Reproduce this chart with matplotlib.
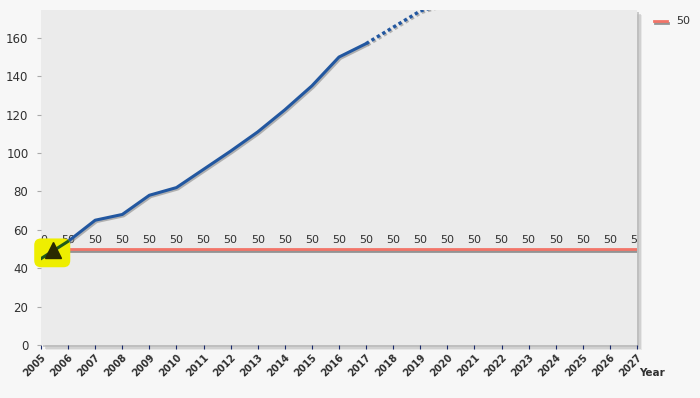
import matplotlib
matplotlib.use("Agg")
import matplotlib.pyplot as plt
import matplotlib.patheffects as pe
from matplotlib.patches import FancyBboxPatch
import numpy as np

years = list(range(2005, 2028))
actual_years = [2005, 2006, 2007, 2008, 2009, 2010, 2011, 2012, 2013, 2014, 2015, 2016, 2017]
actual_vals = [45, 54, 65, 68, 78, 82, 91.5, 101, 111, 122.5, 135, 150, 157]
forecast_years = [2017, 2018, 2019, 2020]
forecast_vals = [157, 165.5, 174, 178]
target_value = 50
target_label = "50"
marker_point = (2005.45, 49.5)

fig = plt.figure(figsize=(7, 3.98), dpi=100)
fig.patch.set_facecolor("#f7f7f7")
ax = fig.add_axes([41/700, 1-345/398, (637-41)/700, (345-10)/398])
ax.set_facecolor("#ebebeb")
ax.set_xlim(2005, 2027)
ax.set_ylim(0, 174.5)

# axes shadow
for off, a in [(5, 0.25), (3.5, 0.45), (2, 0.7)]:
    shadow = plt.Rectangle((41/700 + off/700, 1-345/398 - off/398), (637-41)/700, (345-10)/398,
                           transform=fig.transFigure, facecolor="#b8b8b8", alpha=a,
                           edgecolor="none", zorder=-5)
    fig.patches.append(shadow)
for s in ax.spines.values():
    s.set_visible(False)

shadow_fx = [pe.SimpleLineShadow(offset=(1.0, -1.0), shadow_color="#888888", alpha=0.6), pe.Normal()]

# target line
ax.axhline(target_value, color="#f27468", lw=2.0, zorder=3,
           path_effects=[pe.SimpleLineShadow(offset=(0, -1.6), shadow_color="#8a8a8a", alpha=0.9), pe.Normal()])

# value labels
for y in years:
    ax.text(y, target_value + 2.3, target_label, ha="center", va="bottom", fontsize=8,
            color="#303030", clip_on=True, zorder=4)

# actual line
ax.plot(actual_years, actual_vals, color="#2257a0", lw=2.2, zorder=5, solid_capstyle="round",
        path_effects=shadow_fx)
ax.plot(forecast_years, forecast_vals, color="#2257a0", lw=2.4, zorder=5, linestyle=(0, (1, 0.9)),
        path_effects=shadow_fx)

# highlight
hl = FancyBboxPatch((2004.75, 40.5), 1.33, 15.0, boxstyle="round,pad=0,rounding_size=0.25",
                    facecolor="#eeee00", edgecolor="none", zorder=6, clip_on=False,
                    mutation_aspect=14.1)
ax.add_patch(hl)
green, = ax.plot(actual_years[:2], actual_vals[:2], color="#1f5a1a", lw=2.2, zorder=7)
green.set_clip_path(hl)
ax.plot([marker_point[0]], [marker_point[1]], marker="^", markersize=11, color="#2a2a00", zorder=8,
        clip_on=False)

# ticks
ax.set_xticks(years)
ax.set_xticklabels([str(y) for y in years], rotation=45, ha="right", rotation_mode="anchor",
                   fontsize=7, fontweight="bold", color="#303030")
ax.tick_params(axis="x", length=3, color="#1a2a6a", pad=2)
ax.set_yticks(np.arange(0, 161, 20))
ax.tick_params(axis="y", length=3, color="#aaaaaa", labelsize=8.5, labelcolor="#303030", pad=6)

fig.text(652/700, 1-373/398, "Year", fontsize=7.5, fontweight="bold", color="#303030",
         ha="center", va="center")

# legend
fig.add_artist(plt.Line2D([654/700, 667/700], [1-21/398, 1-21/398], color="#f27468", lw=2.0,
                          path_effects=[pe.SimpleLineShadow(offset=(1, -1.6), shadow_color="#8a8a8a", alpha=0.9), pe.Normal()]))
fig.text(676/700, 1-21/398, target_label, fontsize=8, color="#303030", va="center", ha="left")

fig.savefig("out.png", dpi=100, facecolor=fig.get_facecolor())
